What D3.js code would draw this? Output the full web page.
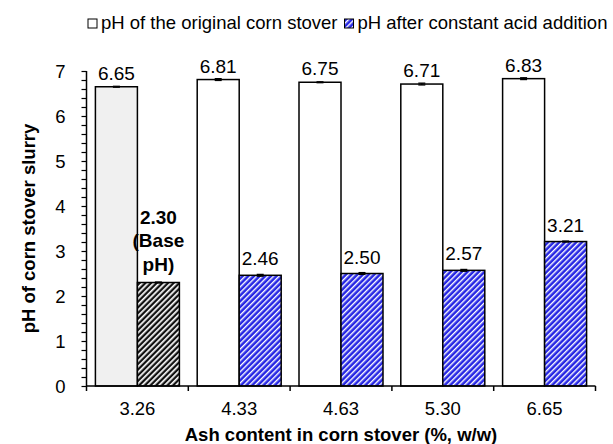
<!DOCTYPE html>
<html><head><meta charset="utf-8">
<script src="https://cdn.jsdelivr.net/npm/d3@7"></script>
<style>body{margin:0;background:#fff}svg{display:block;font-family:Arial,"Liberation Sans",sans-serif}</style>
</head><body><svg id="c" width="613" height="444"></svg>
<script>
const categories = ["3.26","4.33","4.63","5.30","6.65"];
const originalPH = [6.65,6.81,6.75,6.71,6.83];
const originalErr = [0.01,0.02,0.01,0.02,0.02];
const acidPH = [2.30,2.46,2.50,2.57,3.21];
const acidErr = [0.01,0.02,0.02,0.02,0.01];
const seriesNames = ["pH of the original corn stover","pH after constant acid addition"];
const yTicks = [0,1,2,3,4,5,6,7];

const svg = d3.select("#c");
const m = {l:86.5, r:595.5, t:71, b:386};
const defs = svg.append("defs");
function hatch(id, bg, w){
  const p = defs.append("pattern").attr("id",id).attr("patternUnits","userSpaceOnUse")
    .attr("width",4).attr("height",4).attr("patternTransform","rotate(45)");
  p.append("rect").attr("width",4).attr("height",4).attr("fill",bg);
  p.append("rect").attr("x",0).attr("width",w).attr("height",4).attr("fill","#fff");
}
hatch("hb","#2626e4",1.4);
hatch("hk","#111",1.7);

const x0 = d3.scaleBand().domain(categories).range([m.l,m.r]).paddingInner(0).paddingOuter(0);
const x1 = d3.scaleBand().domain([0,1]).range([0,x0.bandwidth()]).paddingInner(0).paddingOuter(0.212);
const y = d3.scaleLinear().domain([0,7]).range([m.b,m.t]);

const data = categories.map((c,i)=>[
  {c, s:0, v:originalPH[i], e:originalErr[i], i},
  {c, s:1, v:acidPH[i], e:acidErr[i], i}
]).flat();

function fillOf(d){
  if(d.s===0) return d.i===0 ? "#f0f0f0" : "#fff";
  return d.i===0 ? "url(#hk)" : "url(#hb)";
}
svg.append("g").selectAll("rect").data(data).join("rect")
  .attr("x",d=>x0(d.c)+x1(d.s)).attr("width",x1.bandwidth())
  .attr("y",d=>y(d.v)).attr("height",d=>y(0)-y(d.v))
  .attr("fill",fillOf).attr("stroke","#000").attr("stroke-width",1.5);

// error bars
const eb = svg.append("g").attr("stroke","#000").attr("stroke-width",1.3);
data.forEach(d=>{
  const cx = x0(d.c)+x1(d.s)+x1.bandwidth()/2;
  eb.append("line").attr("x1",cx).attr("x2",cx).attr("y1",y(d.v-d.e)).attr("y2",y(d.v+d.e));
  eb.append("line").attr("x1",cx-3.5).attr("x2",cx+3.5).attr("y1",y(d.v+d.e)).attr("y2",y(d.v+d.e));
  eb.append("line").attr("x1",cx-3.5).attr("x2",cx+3.5).attr("y1",y(d.v-d.e)).attr("y2",y(d.v-d.e));
});

// value labels
svg.append("g").selectAll("text").data(data.filter(d=>!(d.s===1&&d.i===0))).join("text")
  .attr("x",d=>x0(d.c)+x1(d.s)+x1.bandwidth()/2)
  .attr("y",d=>y(d.v)-(d.s===0?7:10))
  .attr("text-anchor","middle").attr("font-size",19).attr("fill","#000")
  .text(d=>d.v.toFixed(2));
// base pH label
{
  const d = data.find(d=>d.s===1&&d.i===0);
  const cx = x0(d.c)+x1(d.s)+x1.bandwidth()/2;
  const t = svg.append("text").attr("text-anchor","middle").attr("font-size",19).attr("font-weight","bold");
  const lines = [d.v.toFixed(2),"(Base","pH)"];
  lines.forEach((l,k)=>t.append("tspan").attr("x",cx).attr("y",y(d.v)-12-(2-k)*23.5).text(l));
}

// y axis
const ya = svg.append("g").attr("transform",`translate(${m.l},0)`)
  .call(d3.axisLeft(y).tickValues(d3.range(0,7.01,0.2)).tickSize(5).tickFormat(""));
ya.select(".domain").attr("stroke","#000").attr("stroke-width",1.5).attr("d",`M0,${y(0)}V${y(7)}`);
ya.selectAll(".tick line").attr("stroke","#000").attr("stroke-width",1.2);
svg.append("g").selectAll("text").data(yTicks).join("text")
  .attr("x",m.l-21).attr("y",d=>y(d)+6.5).attr("text-anchor","end").attr("font-size",18.5).text(d=>d);

// x axis
const xa = svg.append("g").attr("transform",`translate(0,${m.b})`);
xa.append("line").attr("x1",m.l).attr("x2",m.r).attr("stroke","#000").attr("stroke-width",1.5);
const bounds = categories.map(c=>x0(c)).concat([x0(categories[categories.length-1])+x0.bandwidth()]);
xa.selectAll("line.t").data(bounds).join("line").attr("class","t")
  .attr("x1",d=>d).attr("x2",d=>d).attr("y1",0).attr("y2",5).attr("stroke","#000").attr("stroke-width",1.5);
xa.selectAll("text").data(categories).join("text")
  .attr("x",d=>x0(d)+x0.bandwidth()/2).attr("y",29).attr("text-anchor","middle").attr("font-size",18.5).text(d=>d);

// titles
svg.append("text").attr("x",(m.l+m.r)/2).attr("y",441).attr("text-anchor","middle")
  .attr("font-size",18.5).attr("font-weight","bold").text("Ash content in corn stover (%, w/w)");
svg.append("text").attr("transform",`translate(35,${(m.t+m.b)/2}) rotate(-90)`).attr("text-anchor","middle")
  .attr("font-size",18.5).attr("font-weight","bold").text("pH of corn stover slurry");

// legend
const lg = svg.append("g").attr("transform","translate(88,19)");
const items = [{n:seriesNames[0], f:"#fff"},{n:seriesNames[1], f:"url(#hb)"}];
let lx = 0;
items.forEach((it,k)=>{
  lg.append("rect").attr("x",lx).attr("y",0).attr("width",9).attr("height",9).attr("fill",it.f).attr("stroke","#000").attr("stroke-width",1);
  const t = lg.append("text").attr("x",lx+13).attr("y",10).attr("font-size",18.5).text(it.n);
  lx += 13 + t.node().getComputedTextLength() + 7;
});
</script></body></html>
